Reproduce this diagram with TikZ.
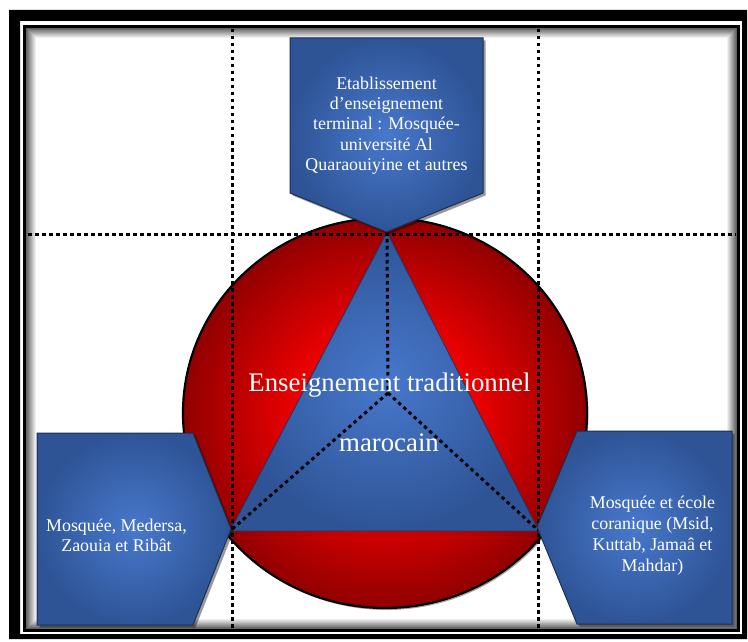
\documentclass[tikz,border=0pt]{standalone}
\usepackage{fontspec}
\setmainfont{Liberation Serif}
\usetikzlibrary{shadows}
\definecolor{bluein}{RGB}{72,120,204}
\definecolor{blueout}{RGB}{46,84,150}
\definecolor{blueline}{RGB}{28,46,84}
\definecolor{redin}{RGB}{236,0,0}
\definecolor{redout}{RGB}{145,0,0}
\pgfdeclareradialshading{redsh}{\pgfpoint{0bp}{0bp}}{color(0bp)=(redin); color(11bp)=(redin); color(25bp)=(redout); color(50bp)=(redout)}
\begin{document}
\begin{tikzpicture}[x=1pt,y=-1pt,
  bluebox/.style={shading=radial, inner color=bluein, outer color=blueout, draw=blueline, line width=1pt, line join=miter,
    drop shadow={shadow xshift=2.5pt, shadow yshift=-2.5pt, opacity=0.4, fill=black}},
  redcircle/.style={shading=redsh, draw=black, line width=2.2pt,
    drop shadow={shadow xshift=1.5pt, shadow yshift=-2pt, opacity=0.35, fill=black}},
  trishape/.style={shading=radial, inner color=bluein, outer color=blueout, draw=blueline!80!blueout, line width=0.8pt, line join=miter},
  dotline/.style={black, line width=3pt, dash pattern=on 3.5pt off 3.5pt},
  boxtext/.style={text=white, align=center, inner sep=0pt},
  bigtext/.style={text=white, font=\fontsize{26.8}{30}\selectfont, inner sep=0pt, anchor=base}]
\useasboundingbox (0,0) rectangle (748,642);
\fill[white] (0,0) rectangle (748,642);
% frame
\fill[black, even odd rule] (9,10) rectangle (747,639) (20,21) rectangle (742,634);
\foreach \i in {0,...,9}{
  \pgfmathsetmacro\g{62-6.2*\i}
  \draw[black!\g, line width=1.05pt] (26.5+\i,28.5+\i) rectangle (736.5-\i,628.5-\i);
}
\draw[black, line width=3pt] (24.5,26.5) rectangle (738.5,630.5);
% circle
\path[redcircle] (385,413) ellipse [x radius=202pt, y radius=195pt];
% triangle
\coordinate (apex) at (387,232);
\coordinate (bl) at (230,531);
\coordinate (br) at (539,531);
\coordinate (mid) at (388,393);
\path[trishape] (apex) -- (br) -- (bl) -- cycle;
% grid
\coordinate (hl) at (28,234);
\coordinate (hr) at (736,234);
\coordinate (v1t) at (232,29);
\coordinate (v1b) at (232,628);
\coordinate (v2t) at (538.5,29);
\coordinate (v2b) at (538.5,628);
\draw[dotline] (hl) -- (hr);
\draw[dotline] (v1t) -- (v1b);
\draw[dotline] (v2t) -- (v2b);
\draw[dotline] (apex) -- (mid);
\draw[dotline] (mid) -- (bl);
\draw[dotline] (mid) -- (br);
% boxes
\path[bluebox] (290,38) -- (483,38) -- (483,193) -- (386.5,232) -- (290,193) -- cycle;
\path[bluebox] (37,433) -- (193,433) -- (231,529) -- (193,625) -- (37,625) -- cycle;
\path[bluebox] (577,431) -- (732,431) -- (732,624) -- (577,624) -- (537,527) -- cycle;
% texts
\node[boxtext, font=\fontsize{17.9}{20.3}\selectfont] (ttop) at (386.5,125.5)
  {Etablissement\\d’enseignement\\terminal : Mosquée-\\université Al\\Quaraouiyine et autres};
\node[boxtext, font=\fontsize{17.9}{20}\selectfont] (tleft) at (116.5,535)
  {Mosquée, Medersa,\\Zaouia et Ribât};
\node[boxtext, font=\fontsize{17.9}{21.2}\selectfont] (tright) at (652.5,535.5)
  {Mosquée et école\\coranique (Msid,\\Kuttab, Jamaâ et\\Mahdar)};
\node[bigtext] (tc1) at (389.5,391) {Enseignement traditionnel};
\node[bigtext] (tc2) at (389,451) {marocain};
\end{tikzpicture}
\end{document}
